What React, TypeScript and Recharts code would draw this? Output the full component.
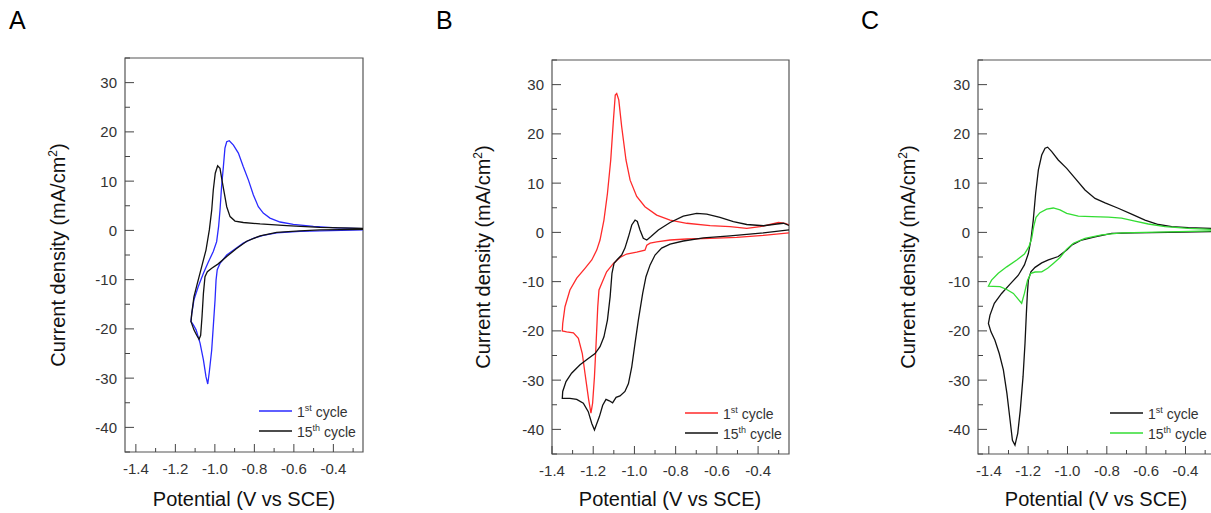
import React from "react";
import { LineChart, Line, XAxis, YAxis, ReferenceArea } from "recharts";

type Pt = [number, number];

// axis ticks (potential in V, current density in mA/cm2)
const xTicksWide = [-1.4, -1.3, -1.2, -1.1, -1.0, -0.9, -0.8, -0.7, -0.6, -0.5, -0.4, -0.3];
const yTicks = [-45, -40, -35, -30, -25, -20, -15, -10, -5, 0, 5, 10, 15, 20, 25, 30, 35];
const legendNames = ["1st", "15th"];

// panel A
const aCycle1: Pt[] = [
  [-0.25, 0.1], [-0.468, -0.1], [-0.569, -0.2], [-0.687, -0.5], [-0.755, -1.0], [-0.805, -1.6],
  [-0.856, -2.6], [-0.898, -3.8], [-0.94, -5.0], [-0.974, -6.7], [-0.988, -8.0], [-0.994, -10.1],
  [-0.999, -14.1], [-1.008, -19.5], [-1.016, -24.3], [-1.028, -28.7], [-1.036, -31.2], [-1.045, -29.7],
  [-1.058, -26.3], [-1.075, -22.9], [-1.095, -20.2], [-1.109, -19.2], [-1.121, -18.5],
  [-1.117, -16.9], [-1.106, -14.1], [-1.084, -11.4], [-1.058, -8.7], [-1.033, -6.4], [-1.008, -4.3],
  [-0.991, -2.3], [-0.981, 0.8], [-0.974, 4.1], [-0.966, 8.9], [-0.957, 12.9], [-0.949, 16.7],
  [-0.94, 18.0], [-0.927, 18.2], [-0.906, 17.3], [-0.881, 15.7], [-0.856, 12.9], [-0.83, 10.2],
  [-0.805, 7.2], [-0.78, 4.8], [-0.755, 3.5], [-0.721, 2.5], [-0.67, 1.7], [-0.603, 1.2],
  [-0.501, 0.8], [-0.383, 0.5], [-0.25, 0.35],
];
const aCycle15: Pt[] = [
  [-0.25, 0.2], [-0.468, 0.1], [-0.569, -0.1], [-0.687, -0.4], [-0.771, -1.1], [-0.839, -2.2],
  [-0.89, -3.7], [-0.94, -5.3], [-0.983, -6.8], [-1.016, -7.7], [-1.038, -8.4], [-1.05, -9.4],
  [-1.058, -12.8], [-1.065, -17.5], [-1.072, -21.3], [-1.08, -22.1], [-1.092, -21.3], [-1.106, -20.2],
  [-1.121, -18.5],
  [-1.117, -16.9], [-1.106, -13.5], [-1.089, -10.8], [-1.067, -7.4], [-1.045, -4.0], [-1.028, 0.1],
  [-1.016, 4.1], [-1.008, 8.2], [-0.998, 11.6], [-0.986, 13.1], [-0.974, 12.6], [-0.964, 10.2],
  [-0.952, 7.5], [-0.94, 4.8], [-0.923, 2.8], [-0.898, 1.9], [-0.856, 1.6], [-0.771, 1.3],
  [-0.637, 0.95], [-0.468, 0.6], [-0.25, 0.4],
];

// panel B
const bCycle1: Pt[] = [
  [-0.25, -0.1], [-0.374, -0.6], [-0.504, -1.0], [-0.633, -1.2], [-0.746, -1.35], [-0.827, -1.55],
  [-0.892, -1.95], [-0.924, -2.2], [-0.94, -2.6], [-0.949, -3.6], [-0.989, -4.0], [-1.038, -4.4],
  [-1.07, -5.1], [-1.102, -6.3], [-1.135, -8.0], [-1.159, -10.4], [-1.172, -11.7], [-1.178, -15.1],
  [-1.186, -22.5], [-1.194, -29.3], [-1.203, -34.7], [-1.211, -36.7], [-1.222, -34.0], [-1.24, -28.6],
  [-1.253, -24.6], [-1.272, -21.5], [-1.296, -20.4], [-1.329, -20.2], [-1.35, -20.0],
  [-1.348, -18.5], [-1.337, -15.1], [-1.313, -11.7], [-1.28, -9.3], [-1.24, -7.3], [-1.207, -5.6],
  [-1.183, -3.6], [-1.167, -1.55], [-1.148, 2.5], [-1.131, 7.9], [-1.115, 14.7], [-1.102, 22.8],
  [-1.093, 27.9], [-1.086, 28.2], [-1.076, 26.9], [-1.062, 21.5], [-1.041, 14.7], [-1.021, 10.6],
  [-0.989, 7.3], [-0.949, 5.2], [-0.892, 3.5], [-0.827, 2.5], [-0.746, 1.85], [-0.633, 1.35],
  [-0.536, 1.15], [-0.455, 0.8], [-0.39, 1.15], [-0.342, 1.6], [-0.301, 2.0], [-0.269, 1.85],
  [-0.25, 1.5],
];
const bCycle15: Pt[] = [
  [-0.25, 0.5], [-0.374, -0.1], [-0.536, -0.7], [-0.665, -1.1], [-0.763, -1.75], [-0.827, -2.4],
  [-0.868, -3.2], [-0.9, -4.6], [-0.924, -6.6], [-0.944, -9.0], [-0.96, -12.4], [-0.981, -17.8],
  [-0.997, -22.5], [-1.013, -27.3], [-1.029, -30.7], [-1.046, -32.3], [-1.07, -33.2], [-1.089, -33.5],
  [-1.106, -34.6], [-1.122, -34.2], [-1.138, -33.9], [-1.154, -35.1], [-1.17, -37.4], [-1.194, -40.1],
  [-1.207, -38.8], [-1.224, -36.4], [-1.248, -34.7], [-1.28, -33.9], [-1.313, -33.7], [-1.35, -33.7],
  [-1.348, -32.3], [-1.332, -30.3], [-1.305, -28.6], [-1.264, -26.9], [-1.224, -25.6], [-1.191, -24.6],
  [-1.167, -23.2], [-1.148, -21.2], [-1.131, -17.8], [-1.118, -13.1], [-1.109, -8.3], [-1.099, -6.3],
  [-1.083, -5.5], [-1.062, -4.6], [-1.046, -3.2], [-1.029, -0.9], [-1.013, 1.5], [-0.997, 2.5],
  [-0.986, 2.2], [-0.973, 0.5], [-0.957, -1.2], [-0.94, -1.55], [-0.921, -0.9], [-0.884, 0.5],
  [-0.827, 2.0], [-0.763, 3.3], [-0.698, 3.85], [-0.649, 3.7], [-0.585, 3.05], [-0.52, 2.2],
  [-0.455, 1.6], [-0.374, 1.35], [-0.309, 1.7], [-0.277, 1.85], [-0.25, 1.4],
];

// panel C
const cCycle1: Pt[] = [
  [-0.25, 0.15], [-0.27, 0.14], [-0.487, 0.0], [-0.657, -0.1], [-0.775, -0.2], [-0.86, -0.9],
  [-0.928, -1.55], [-0.979, -2.6], [-1.004, -3.6], [-1.047, -4.9], [-1.097, -5.6], [-1.131, -6.2],
  [-1.165, -7.1], [-1.186, -8.0], [-1.199, -9.7], [-1.204, -12.4], [-1.209, -16.4], [-1.216, -22.5],
  [-1.226, -29.3], [-1.24, -36.1], [-1.253, -40.8], [-1.267, -43.2], [-1.28, -42.2], [-1.292, -38.1],
  [-1.308, -32.7], [-1.326, -27.9], [-1.347, -24.6], [-1.369, -21.9], [-1.389, -20.2], [-1.402, -18.5],
  [-1.394, -16.8], [-1.372, -14.4], [-1.335, -12.4], [-1.292, -10.5], [-1.25, -8.7], [-1.219, -6.6],
  [-1.199, -4.3], [-1.186, -1.55], [-1.174, 2.5], [-1.162, 7.9], [-1.148, 12.7], [-1.131, 15.7],
  [-1.114, 17.1], [-1.101, 17.3], [-1.08, 16.4], [-1.047, 14.7], [-1.004, 13.0], [-0.962, 11.0],
  [-0.911, 8.6], [-0.86, 6.9], [-0.809, 6.0], [-0.742, 4.9], [-0.674, 3.7], [-0.606, 2.5],
  [-0.538, 1.6], [-0.47, 1.15], [-0.386, 0.95], [-0.27, 0.8], [-0.25, 0.8],
];
const cCycle15: Pt[] = [
  [-0.25, 0.3], [-0.27, 0.3], [-0.487, 0.1], [-0.725, -0.1], [-0.826, -0.5], [-0.911, -1.2],
  [-0.97, -2.2], [-1.004, -3.4], [-1.038, -5.1], [-1.072, -6.3], [-1.101, -7.3], [-1.131, -8.0],
  [-1.165, -8.05], [-1.186, -8.3], [-1.203, -9.7], [-1.219, -12.4], [-1.233, -14.4], [-1.25, -13.6],
  [-1.275, -12.4], [-1.309, -11.6], [-1.343, -11.0], [-1.377, -10.95], [-1.402, -10.9],
  [-1.386, -9.7], [-1.352, -8.3], [-1.309, -7.0], [-1.258, -5.6], [-1.219, -4.4], [-1.196, -2.9],
  [-1.182, -1.2], [-1.172, 1.15], [-1.16, 3.05], [-1.14, 4.0], [-1.106, 4.7], [-1.072, 4.95],
  [-1.038, 4.55], [-1.004, 3.85], [-0.945, 3.3], [-0.877, 3.2], [-0.792, 3.1], [-0.725, 2.9],
  [-0.657, 2.3], [-0.589, 1.7], [-0.504, 1.15], [-0.386, 0.8], [-0.27, 0.6], [-0.25, 0.6],
];

const FONT = '"Liberation Sans", Arial, sans-serif';
const toRows = (pts: Pt[]) => pts.map(([e, i]) => ({ e, i }));

function XTick(props: any) {
  const { x, y, payload } = props;
  const v = payload.value as number;
  const major = Math.round(v * 10) % 2 === 0;
  return (
    <g>
      <line x1={x} x2={x} y1={y} y2={y - (major ? 8 : 4)} stroke="#444" />
      {major && (
        <text x={x} y={y + 22} textAnchor="middle" fill="#333" fontSize={15} fontFamily={FONT}>
          {v.toFixed(1)}
        </text>
      )}
    </g>
  );
}

function YTick(props: any) {
  const { x, y, payload } = props;
  const v = payload.value as number;
  const major = v % 10 === 0;
  return (
    <g>
      <line x1={x} x2={x + (major ? 9 : 5)} y1={y} y2={y} stroke="#444" />
      {major && (
        <text x={x - 8} y={y} dy="0.36em" textAnchor="end" fill="#333" fontSize={15} fontFamily={FONT}>
          {v}
        </text>
      )}
    </g>
  );
}

interface Series {
  data: Pt[];
  color: string;
}

interface PanelProps {
  letter: string;
  left: number;
  width: number;
  margin: { top: number; right: number; bottom: number; left: number };
  xDomain: [number, number];
  series: Series[];
  legendPos: { left: number; top: number };
  titleX: number;
  yTitleX: number;
  plotMidY: number;
  letterX: number;
}

function Panel(p: PanelProps) {
  const [x0, x1] = p.xDomain;
  return (
    <>
      <div style={{ position: "absolute", left: p.letterX, top: 6, fontSize: 25, fontFamily: FONT, color: "#000" }}>
        {p.letter}
      </div>
      <div style={{ position: "absolute", left: p.left, top: 0 }}>
        <LineChart width={p.width} height={513} margin={p.margin}>
          <XAxis
            dataKey="e"
            type="number"
            domain={[x0, x1]}
            allowDataOverflow
            ticks={xTicksWide.filter((t) => t >= x0 - 1e-6 && t <= x1)}
            interval={0}
            tickSize={0}
            tickMargin={0}
            height={30}
            axisLine={false}
            tickLine={false}
            tick={<XTick />}
          />
          <YAxis
            dataKey="i"
            type="number"
            domain={[-45, 35]}
            allowDataOverflow
            ticks={yTicks}
            interval={0}
            tickSize={0}
            tickMargin={0}
            width={40}
            axisLine={false}
            tickLine={false}
            tick={<YTick />}
          />
          {p.series.map((s, k) => (
            <Line
              key={k}
              data={toRows(s.data)}
              dataKey="i"
              type="linear"
              stroke={s.color}
              strokeWidth={1.3}
              dot={false}
              isAnimationActive={false}
            />
          ))}
          <ReferenceArea x1={x0} x2={x1} y1={-45} y2={35} fill="none" stroke="#555" strokeWidth={1.2} ifOverflow="visible" />
        </LineChart>
      </div>
      <div style={{ position: "absolute", left: p.legendPos.left, top: p.legendPos.top, fontFamily: FONT, fontSize: 14, color: "#333" }}>
        {p.series.map((s, k) => (
          <div key={k} style={{ display: "flex", alignItems: "center", height: 20 }}>
            <svg width={33} height={4} style={{ marginRight: 5 }}>
              <line x1={0} x2={33} y1={2} y2={2} stroke={s.color} strokeWidth={1.6} />
            </svg>
            <span>
              {legendNames[k].replace(/\D+$/, "")}
              <sup style={{ fontSize: 9 }}>{legendNames[k].replace(/^\d+/, "")}</sup> cycle
            </span>
          </div>
        ))}
      </div>
      <div
        style={{
          position: "absolute",
          left: p.titleX,
          top: 499,
          transform: "translate(-50%, -50%)",
          whiteSpace: "nowrap",
          fontFamily: FONT,
          fontSize: 20,
          color: "#111",
        }}
      >
        Potential (V vs SCE)
      </div>
      <div
        style={{
          position: "absolute",
          left: p.yTitleX,
          top: p.plotMidY,
          transform: "translate(-50%, -50%) rotate(-90deg)",
          whiteSpace: "nowrap",
          fontFamily: FONT,
          fontSize: 20,
          color: "#111",
        }}
      >
        Current density (mA/cm<sup style={{ fontSize: 12 }}>2</sup>)
      </div>
    </>
  );
}

export default function App() {
  return (
    <div
      style={{
        position: "absolute",
        left: 0,
        top: 0,
        width: 1211,
        height: 513,
        overflow: "hidden",
        background: "#fff",
      }}
    >
      <Panel
        letter="A"
        letterX={9}
        left={0}
        width={400}
        margin={{ top: 58, right: 37, bottom: 31, left: 85 }}
        xDomain={[-1.455, -0.25]}
        series={[
          { data: aCycle1, color: "#2a2aff" },
          { data: aCycle15, color: "#111" },
        ]}
        legendPos={{ left: 259, top: 401 }}
        titleX={244}
        yTitleX={58}
        plotMidY={255}
      />
      <Panel
        letter="B"
        letterX={436}
        left={420}
        width={400}
        margin={{ top: 60, right: 31, bottom: 29, left: 92 }}
        xDomain={[-1.4, -0.25]}
        series={[
          { data: bCycle1, color: "#ff2a2a" },
          { data: bCycle15, color: "#111" },
        ]}
        legendPos={{ left: 685, top: 403 }}
        titleX={670}
        yTitleX={483}
        plotMidY={257}
      />
      <Panel
        letter="C"
        letterX={861}
        left={850}
        width={370}
        margin={{ top: 60, right: 5, bottom: 29, left: 88 }}
        xDomain={[-1.455, -0.25]}
        series={[
          { data: cCycle1, color: "#111" },
          { data: cCycle15, color: "#33dd33" },
        ]}
        legendPos={{ left: 1110, top: 403 }}
        titleX={1096}
        yTitleX={908}
        plotMidY={257}
      />
    </div>
  );
}
